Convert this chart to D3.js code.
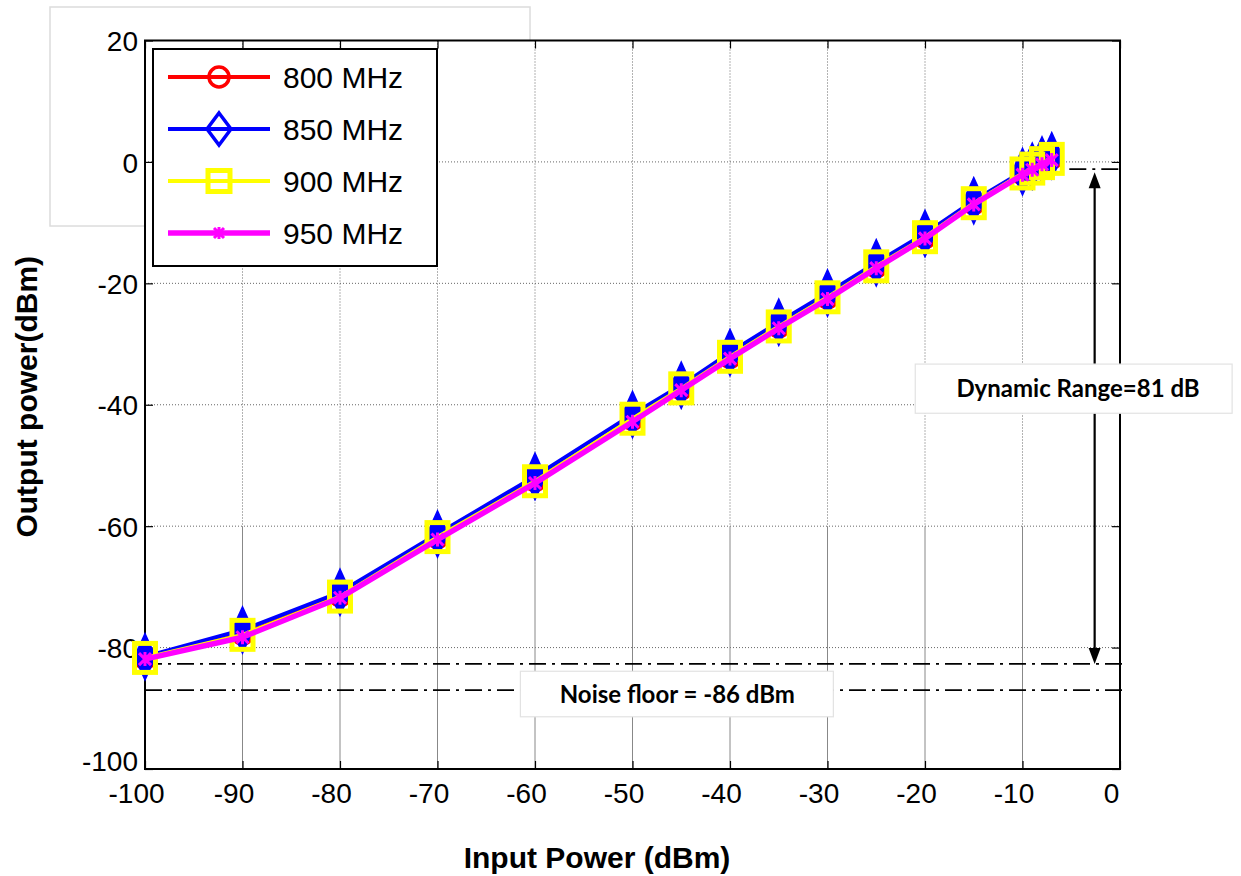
<!DOCTYPE html>
<html>
<head>
<meta charset="utf-8">
<script src="https://cdn.jsdelivr.net/npm/d3@7"></script>
<style>
  html, body { margin: 0; padding: 0; background: #fff; }
  svg { display: block; }
</style>
</head>
<body>
<svg id="chart" width="1241" height="876"></svg>
<script>
// ---------------- data ----------------
const inputPower = [-100, -90, -80, -70, -60, -50, -45, -40, -35, -30, -25, -20, -15, -10, -9, -8, -7];
const out800 = [-81.8, -77.8, -71.5, -61.9, -52.5, -42.4, -37.4, -32.2, -27.2, -22.4, -17.3, -12.5, -6.9, -2.0, -1.2, -0.3, 0.6];
const out850 = [-81.5, -77.1, -70.9, -61.3, -51.8, -41.6, -36.8, -31.4, -26.4, -21.6, -16.6, -11.8, -6.4, -1.6, -0.7, 0.3, 1.0];
const out900 = [-81.7, -77.9, -71.6, -61.8, -52.6, -42.3, -37.3, -32.1, -27.1, -22.3, -17.2, -12.4, -6.8, -1.9, -1.1, -0.2, 0.5];
const out950 = [-81.9, -78.3, -71.8, -62.2, -52.9, -42.8, -37.6, -32.4, -27.4, -22.6, -17.5, -12.6, -7.0, -2.1, -1.3, -0.4, 0.3];
const seriesNames = ["800 MHz", "850 MHz", "900 MHz", "950 MHz"];
const xTicks = [-100, -90, -80, -70, -60, -50, -40, -30, -20, -10, 0];
const yTicks = [20, 0, -20, -40, -60, -80, -100];
const noiseLines = [-82.7, -87.0];
const topRefLevel = -1.2;
const dynamicLabel = "Dynamic Range=81 dB";
const noiseLabel = "Noise floor = -86 dBm";

// ---------------- layout ----------------
const svg = d3.select("#chart");
const L = 145, R = 1120, T = 40.5, B = 769;
const x = d3.scaleLinear().domain([-100, 0]).range([L, R]);
const y = d3.scaleLinear().domain([-100, 20]).range([B, T]);

const FONT = "'Liberation Sans', Arial, Helvetica, sans-serif";
const LABEL_FONT = "Lato, 'Open Sans', sans-serif";
const fmt = d => String(d);

// faint grey frame (top-left artifact in reference)
svg.append("rect").attr("x", 50).attr("y", 7).attr("width", 480).attr("height", 219)
  .attr("fill", "none").attr("stroke", "#dcdcdc").attr("stroke-width", 1.5);

// plot background
svg.append("rect").attr("x", L).attr("y", T).attr("width", R - L).attr("height", B - T).attr("fill", "#fff");

// grid
const grid = svg.append("g");
yTicks.filter(v => v > -100 && v < 20).forEach(v => {
  grid.append("line").attr("x1", L).attr("x2", R).attr("y1", y(v)).attr("y2", y(v))
    .attr("stroke", "#666").attr("stroke-width", 1).attr("stroke-dasharray", "1,2");
});
xTicks.filter(v => v > -100 && v < 0).forEach(v => {
  grid.append("line").attr("x1", x(v)).attr("x2", x(v)).attr("y1", T).attr("y2", y(-60))
    .attr("stroke", "#666").attr("stroke-width", 1).attr("stroke-dasharray", "1,2");
  grid.append("line").attr("x1", x(v)).attr("x2", x(v)).attr("y1", y(-60)).attr("y2", B)
    .attr("stroke", "#888").attr("stroke-width", 1);
});

// axes (inward ticks, box)
const axB = svg.append("g").attr("transform", `translate(0,${B})`)
  .call(d3.axisBottom(x).tickValues(xTicks).tickSize(-8).tickPadding(14).tickFormat(fmt));
const axT = svg.append("g").attr("transform", `translate(0,${T})`)
  .call(d3.axisTop(x).tickValues(xTicks).tickSize(-8).tickFormat(""));
const axL = svg.append("g").attr("transform", `translate(${L},0)`)
  .call(d3.axisLeft(y).tickValues(yTicks).tickSize(-8).tickPadding(7).tickFormat(fmt));
const axR = svg.append("g").attr("transform", `translate(${R},0)`)
  .call(d3.axisRight(y).tickValues(yTicks).tickSize(-8).tickFormat(""));
[axB, axT, axL, axR].forEach(a => {
  a.select(".domain").remove();
  a.selectAll(".tick line").attr("stroke", "#000").attr("stroke-width", 1.2);
});
axB.selectAll(".tick text").attr("font-family", FONT).attr("font-size", 28).attr("fill", "#000")
  .attr("dx", -9).attr("dy", "0.72em");
axL.selectAll(".tick text").attr("font-family", FONT).attr("font-size", 28).attr("fill", "#000")
  .attr("dy", d => d === -100 ? "0.05em" : "0.36em");

svg.append("rect").attr("x", L).attr("y", T).attr("width", R - L).attr("height", B - T)
  .attr("fill", "none").attr("stroke", "#000").attr("stroke-width", 2);

// axis titles
svg.append("text").attr("x", 597).attr("y", 868).attr("text-anchor", "middle")
  .attr("font-family", FONT).attr("font-weight", "bold").attr("font-size", 30).text("Input Power (dBm)");
svg.append("text").attr("transform", `translate(37,${(T + B) / 2 - 8}) rotate(-90)`).attr("text-anchor", "middle")
  .attr("font-family", FONT).attr("font-weight", "bold").attr("font-size", 30).text("Output power(dBm)");

// noise floor + reference dash-dot lines
const dashDot = "17,6,3,6";
noiseLines.forEach(v => {
  svg.append("line").attr("x1", L).attr("x2", R + 2).attr("y1", y(v)).attr("y2", y(v))
    .attr("stroke", "#000").attr("stroke-width", 1.8).attr("stroke-dasharray", dashDot);
});
svg.append("line").attr("x1", x(-5.2)).attr("x2", R + 2).attr("y1", y(topRefLevel)).attr("y2", y(topRefLevel))
  .attr("stroke", "#000").attr("stroke-width", 1.8).attr("stroke-dasharray", dashDot);

// ---------------- series ----------------
const series = [
  { name: seriesNames[0], vals: out800, color: "#ff0000", marker: "circle", lw: 4 },
  { name: seriesNames[1], vals: out850, color: "#0000ff", marker: "diamond", lw: 4 },
  { name: seriesNames[2], vals: out900, color: "#ffff00", marker: "square", lw: 4 },
  { name: seriesNames[3], vals: out950, color: "#ff00ff", marker: "star", lw: 5.5 }
];

function drawMarker(g, type, color, cx, cy, legend) {
  if (type === "circle") {
    g.append("circle").attr("cx", cx).attr("cy", cy).attr("r", 10)
      .attr("fill", "none").attr("stroke", color).attr("stroke-width", 3.5);
  } else if (type === "diamond") {
    const hw = legend ? 12 : 10, hh = legend ? 16 : 22;
    g.append("path").attr("d", `M${cx},${cy - hh}L${cx + hw},${cy}L${cx},${cy + hh}L${cx - hw},${cy}Z`)
      .attr("fill", legend ? "none" : color).attr("stroke", color).attr("stroke-width", legend ? 3.5 : 2.5);
  } else if (type === "square") {
    const w = legend ? 22 : 21, h = legend ? 21 : 29;
    g.append("rect").attr("x", cx - w / 2).attr("y", cy - h / 2).attr("width", w).attr("height", h)
      .attr("fill", "none").attr("stroke", color).attr("stroke-width", 5);
  } else {
    const s = legend ? 5 : 6;
    const p = `M${cx - s},${cy - s}L${cx + s},${cy + s}M${cx - s},${cy + s}L${cx + s},${cy - s}M${cx},${cy - s - 1}L${cx},${cy + s + 1}`;
    g.append("path").attr("d", p).attr("fill", "none").attr("stroke", color).attr("stroke-width", 3);
  }
}

const line = d3.line().x(d => x(d[0])).y(d => y(d[1]));
series.forEach(s => {
  const g = svg.append("g");
  const pts = inputPower.map((xv, i) => [xv, s.vals[i]]);
  g.append("path").attr("d", line(pts)).attr("fill", "none").attr("stroke", s.color)
    .attr("stroke-width", s.lw).attr("stroke-linejoin", "round");
  pts.forEach(p => drawMarker(g, s.marker, s.color, x(p[0]), y(p[1]), false));
});

// ---------------- legend ----------------
const lg = svg.append("g");
lg.append("rect").attr("x", 153).attr("y", 49).attr("width", 284).attr("height", 217)
  .attr("fill", "#fff").attr("stroke", "#000").attr("stroke-width", 2);
const legendRowY = d3.scalePoint().domain(seriesNames).range([77, 233]);
series.forEach(s => {
  const cy = legendRowY(s.name);
  lg.append("line").attr("x1", 168).attr("x2", 270).attr("y1", cy).attr("y2", cy)
    .attr("stroke", s.color).attr("stroke-width", s.lw);
  drawMarker(lg, s.marker, s.color, 219, cy, true);
  lg.append("text").attr("x", 283).attr("y", cy).attr("dy", "0.36em")
    .attr("font-family", FONT).attr("font-size", 30).attr("fill", "#000").text(s.name);
});

// ---------------- dynamic range arrow ----------------
const ax = x(-2.6);
const yTop = y(topRefLevel) + 3, yBot = y(noiseLines[0]);
svg.append("line").attr("x1", ax).attr("x2", ax).attr("y1", yTop + 14).attr("y2", yBot - 14)
  .attr("stroke", "#000").attr("stroke-width", 2.2);
svg.append("path").attr("d", `M${ax},${yTop}L${ax - 6},${yTop + 16}L${ax + 6},${yTop + 16}Z`).attr("fill", "#000");
svg.append("path").attr("d", `M${ax},${yBot}L${ax - 6},${yBot - 16}L${ax + 6},${yBot - 16}Z`).attr("fill", "#000");

// ---------------- annotation boxes ----------------
function labelBox(x0, x1, y0, y1, txt, tx) {
  svg.append("rect").attr("x", x0).attr("y", y0).attr("width", x1 - x0).attr("height", y1 - y0)
    .attr("fill", "#fff").attr("stroke", "#e2e2e2").attr("stroke-width", 1.2);
  svg.append("text").attr("x", tx).attr("y", (y0 + y1) / 2).attr("dy", "0.36em").attr("text-anchor", "middle")
    .attr("font-family", LABEL_FONT).attr("font-weight", "bold").attr("font-size", 24).attr("fill", "#000").text(txt);
}
labelBox(x(-21.0), x(11.5), y(-33.3), y(-41.4), dynamicLabel, x(-4.3));
labelBox(x(-61.5), x(-29.4), y(-83.9), y(-91.4), noiseLabel, x(-45.4));
</script>
</body>
</html>
